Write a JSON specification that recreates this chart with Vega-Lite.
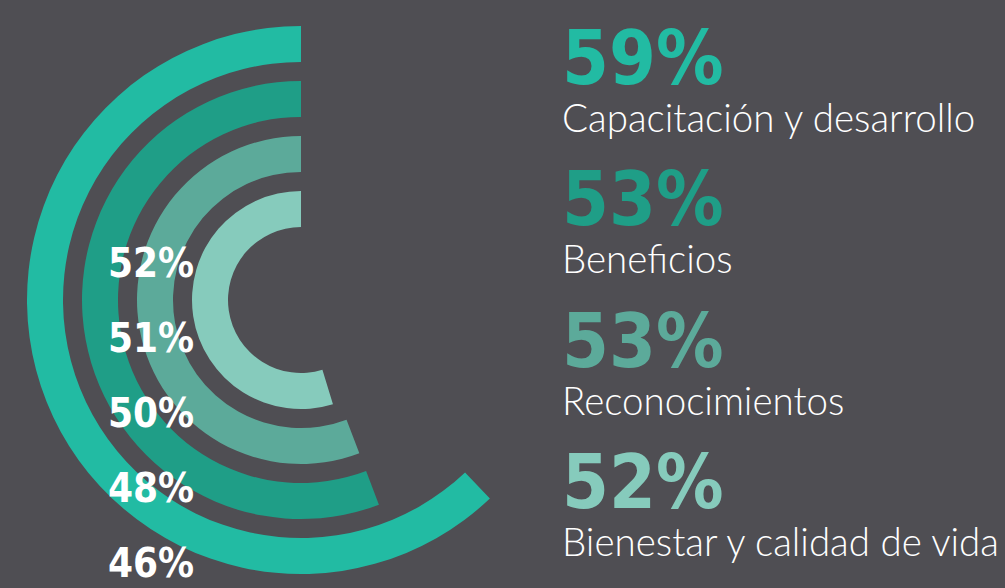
{
  "$schema": "https://vega.github.io/schema/vega-lite/v6.json",
  "width": 1005,
  "height": 588,
  "autosize": {"type": "fit", "contains": "padding"},
  "padding": 0,
  "background": "#4F4E53",
  "config": {"view": {"stroke": null}},
  "datasets": {
    "main": [
      {"category": "Capacitación y desarrollo", "pct": 0.59, "order": 1},
      {"category": "Beneficios", "pct": 0.53, "order": 2},
      {"category": "Reconocimientos", "pct": 0.53, "order": 3},
      {"category": "Bienestar y calidad de vida", "pct": 0.52, "order": 4}
    ],
    "side": [
      {"value": 0.52, "pos": 1},
      {"value": 0.51, "pos": 2},
      {"value": 0.50, "pos": 3},
      {"value": 0.48, "pos": 4},
      {"value": 0.46, "pos": 5}
    ]
  },
  "resolve": {"scale": {"y": "independent"}},
  "layer": [
    {
      "data": {"name": "main"},
      "mark": {"type": "arc", "radius2Offset": -36},
      "encoding": {
        "x": {"datum": 301, "type": "quantitative", "scale": {"domain": [0, 1005]}, "axis": null},
        "y": {"datum": 300, "type": "quantitative", "scale": {"domain": [0, 588], "reverse": true}, "axis": null},
        "theta": {"field": "pct", "type": "quantitative", "stack": null, "scale": {"domain": [0, 0.95], "range": [6.2832, 0]}},
        "radius": {"field": "order", "type": "quantitative", "scale": {"type": "linear", "zero": false, "domain": [1, 4], "range": [274, 109]}},
        "radius2": {"field": "order"},
        "color": {"field": "category", "type": "nominal", "legend": null,
          "scale": {"domain": ["Capacitación y desarrollo", "Beneficios", "Reconocimientos", "Bienestar y calidad de vida"],
                    "range": ["#22BBA3", "#1F9E87", "#5CAA9A", "#86CBBC"]}}
      }
    },
    {
      "data": {"name": "side"},
      "mark": {"type": "text", "align": "left", "baseline": "alphabetic", "font": "DejaVu Sans Condensed, sans-serif", "fontWeight": "bold", "fontSize": 40, "color": "#FFFFFF"},
      "encoding": {
        "x": {"datum": 108, "type": "quantitative", "scale": {"domain": [0, 1005]}, "axis": null},
        "y": {"field": "pos", "type": "ordinal", "scale": {"type": "point", "padding": 0, "range": [277, 577]}, "axis": null},
        "text": {"field": "value", "type": "quantitative", "format": ".0%"}
      }
    },
    {
      "data": {"name": "main"},
      "encoding": {
        "x": {"datum": 562, "type": "quantitative", "scale": {"domain": [0, 1005]}, "axis": null},
        "y": {"field": "order", "type": "ordinal", "scale": {"type": "point", "padding": 0, "range": [84, 508]}, "axis": null}
      },
      "layer": [
        {
          "mark": {"type": "text", "align": "left", "baseline": "alphabetic", "font": "DejaVu Sans Condensed, sans-serif", "fontWeight": "bold", "fontSize": 75},
          "encoding": {
            "text": {"field": "pct", "type": "quantitative", "format": ".0%"},
            "color": {"field": "category", "type": "nominal", "legend": null,
              "scale": {"domain": ["Capacitación y desarrollo", "Beneficios", "Reconocimientos", "Bienestar y calidad de vida"],
                        "range": ["#22BBA3", "#1F9E87", "#5CAA9A", "#86CBBC"]}}
          }
        },
        {
          "mark": {"type": "text", "align": "left", "baseline": "alphabetic", "dy": 48, "font": "Lato", "fontWeight": 300, "fontSize": 38.5, "color": "#FFFFFF"},
          "encoding": {
            "text": {"field": "category", "type": "nominal"}
          }
        }
      ]
    }
  ]
}
